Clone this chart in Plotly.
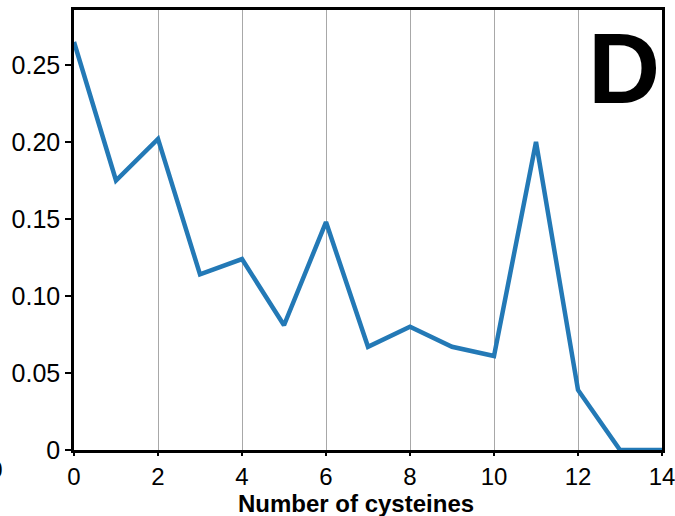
import plotly.graph_objects as go

cysteines = list(range(15))
fraction = [0.265, 0.175, 0.202, 0.114, 0.124, 0.081, 0.148, 0.067, 0.080, 0.067, 0.061, 0.200, 0.039, 0.0, 0.0]
y_tickvals = [0, 0.05, 0.10, 0.15, 0.20, 0.25]
y_ticktext = ["0", "0.05", "0.10", "0.15", "0.20", "0.25"]
x_tickvals = [0, 2, 4, 6, 8, 10, 12, 14]

fig = go.Figure()
fig.add_trace(go.Scatter(
    x=cysteines, y=fraction, mode="lines",
    line=dict(color="#2379b6", width=4.5),
    cliponaxis=False, showlegend=False,
))

font = "Liberation Sans, Arial, sans-serif"
fig.update_layout(
    width=675, height=516,
    margin=dict(l=74, r=13, t=10, b=66),
    paper_bgcolor="white", plot_bgcolor="white",
    font=dict(family=font, size=25, color="black"),
    xaxis=dict(
        range=[0, 14], tickvals=x_tickvals, showgrid=True,
        gridcolor="#a8a8a8", gridwidth=1, automargin=False,
        ticklabeloverflow="allow", tickfont=dict(size=24),
        showline=True, linecolor="black", linewidth=2.5, mirror=True,
        ticks="outside", ticklen=3, tickwidth=2, tickcolor="black",
        zeroline=False,
    ),
    yaxis=dict(
        range=[0, 0.2857], tickvals=y_tickvals, ticktext=y_ticktext,
        showgrid=False, zeroline=False, automargin=False,
        ticklabeloverflow="allow",
        showline=True, linecolor="black", linewidth=2.5, mirror=True,
        ticks="outside", ticklen=6, tickwidth=2, tickcolor="black",
    ),
    annotations=[
        dict(text="<b>Number of cysteines</b>", x=0.48, y=-0.121,
             xref="paper", yref="paper", xanchor="center", yanchor="middle",
             showarrow=False, font=dict(size=24, family=font, color="black")),
        dict(text="<b>D</b>", x=1.0, y=1.0, xref="paper", yref="paper",
             xanchor="right", yanchor="top", showarrow=False,
             font=dict(size=100, family=font, color="black")),
        dict(text="10", x=-0.117, y=-0.01, xref="paper", yref="paper",
             xanchor="right", yanchor="top", showarrow=False,
             font=dict(size=24, family=font, color="black")),
    ],
)

fig.write_html("out.html")
